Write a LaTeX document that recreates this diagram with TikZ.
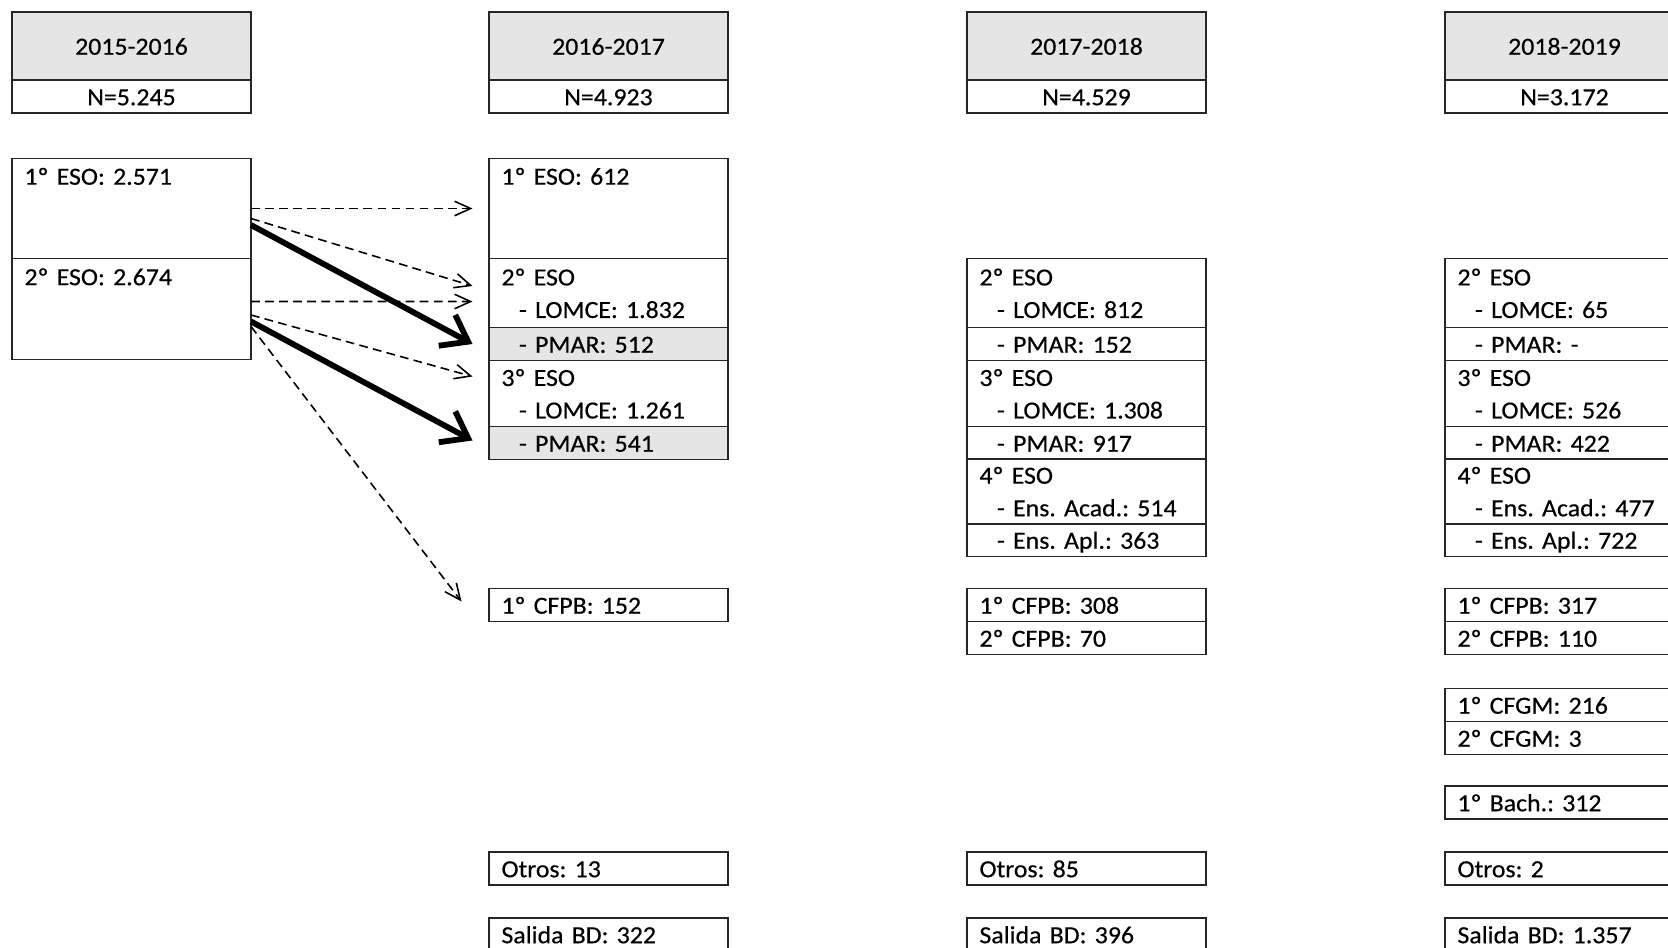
\documentclass[tikz,border=0pt]{standalone}
\usepackage{fontspec}
\setmainfont{Carlito}[FakeStretch=1.05,FakeBold=0.4]
\usetikzlibrary{arrows.meta}

\tikzset{
  cellbox/.style={draw=black!85, line width=1.1pt, rectangle, anchor=north west,
    minimum width=4.78cm, minimum height=0.66cm, inner xsep=0.25cm, inner ysep=0pt,
    outer sep=0pt, text width=4.28cm, align=left,
    font=\fontsize{14pt}{18.5pt}\selectfont\frenchspacing,
    execute at begin node=\cellstrut, execute at end node=\cellstrut},
  yearbox/.style={cellbox, align=center, fill=gray!20, minimum height=1.36cm},
  nbox/.style={cellbox, align=center},
  pmarbox/.style={cellbox, fill=gray!20},
  dasharrow/.style={-{Straight Barb[length=0.32cm,width=0.29cm]}, line width=0.9pt,
    dash pattern=on 5pt off 3pt},
  thickarrow/.style={-{Straight Barb[length=0.48cm,width=0.7cm]}, line width=3.3pt}
}
\newcommand{\subln}{\hspace*{0.35cm}}
\newcommand{\cellstrut}{\rule[-4.3pt]{0pt}{18.5pt}}

\begin{document}
\begin{tikzpicture}
	\useasboundingbox (0,0) rectangle (33.36,-18.96);
	\clip (0,0) rectangle (33.36,-18.96);
	% 2015-2016
	\node[yearbox] (yrA) at (0.24,-0.24) {2015-2016};
	\node[nbox] (nA) at (0.24,-1.6) {N=5.245};
	\node[cellbox, minimum height=2cm] (eso1A) at (0.24,-3.17) {1º ESO: 2.571\\~\\~};
	\node[cellbox, minimum height=2.02cm] (eso2A) at (0.24,-5.17) {2º ESO: 2.674\\~\\~};
	% 2016-2017
	\node[yearbox] (yrB) at (9.78,-0.24) {2016-2017};
	\node[nbox] (nB) at (9.78,-1.6) {N=4.923};
	\node[cellbox, minimum height=2cm] (eso1B) at (9.78,-3.17) {1º ESO: 612\\~\\~};
	\node[cellbox, minimum height=1.38cm] (eso2B) at (9.78,-5.17) {2º ESO\\\subln - LOMCE: 1.832};
	\node[pmarbox] (pmar2B) at (9.78,-6.55) {\subln - PMAR: 512};
	\node[cellbox, minimum height=1.32cm] (eso3B) at (9.78,-7.21) {3º ESO\\\subln - LOMCE: 1.261};
	\node[pmarbox] (pmar3B) at (9.78,-8.53) {\subln - PMAR: 541};
	\node[cellbox] (cfpb1B) at (9.78,-11.77) {1º CFPB: 152};
	\node[cellbox] (otrosB) at (9.78,-17.04) {Otros: 13};
	\node[cellbox] (salidaB) at (9.78,-18.36) {Salida BD: 322};
	% 2017-2018
	\node[yearbox] (yrC) at (19.34,-0.24) {2017-2018};
	\node[nbox] (nC) at (19.34,-1.6) {N=4.529};
	\node[cellbox, minimum height=1.38cm] (eso2C) at (19.34,-5.17) {2º ESO\\\subln - LOMCE: 812};
	\node[cellbox] (pmar2C) at (19.34,-6.55) {\subln - PMAR: 152};
	\node[cellbox, minimum height=1.32cm] (eso3C) at (19.34,-7.21) {3º ESO\\\subln - LOMCE: 1.308};
	\node[cellbox] (pmar3C) at (19.34,-8.53) {\subln - PMAR: 917};
	\node[cellbox, minimum height=1.31cm] (eso4C) at (19.34,-9.17) {4º ESO\\\subln - Ens. Acad.: 514};
	\node[cellbox] (aplC) at (19.34,-10.47) {\subln - Ens. Apl.: 363};
	\node[cellbox] (cfpb1C) at (19.34,-11.77) {1º CFPB: 308};
	\node[cellbox] (cfpb2C) at (19.34,-12.43) {2º CFPB: 70};
	\node[cellbox] (otrosC) at (19.34,-17.04) {Otros: 85};
	\node[cellbox] (salidaC) at (19.34,-18.36) {Salida BD: 396};
	% 2018-2019
	\node[yearbox] (yrD) at (28.9,-0.24) {2018-2019};
	\node[nbox] (nD) at (28.9,-1.6) {N=3.172};
	\node[cellbox, minimum height=1.38cm] (eso2D) at (28.9,-5.17) {2º ESO\\\subln - LOMCE: 65};
	\node[cellbox] (pmar2D) at (28.9,-6.55) {\subln - PMAR: -};
	\node[cellbox, minimum height=1.32cm] (eso3D) at (28.9,-7.21) {3º ESO\\\subln - LOMCE: 526};
	\node[cellbox] (pmar3D) at (28.9,-8.53) {\subln - PMAR: 422};
	\node[cellbox, minimum height=1.31cm] (eso4D) at (28.9,-9.17) {4º ESO\\\subln - Ens. Acad.: 477};
	\node[cellbox] (aplD) at (28.9,-10.47) {\subln - Ens. Apl.: 722};
	\node[cellbox] (cfpb1D) at (28.9,-11.77) {1º CFPB: 317};
	\node[cellbox] (cfpb2D) at (28.9,-12.43) {2º CFPB: 110};
	\node[cellbox] (cfgm1D) at (28.9,-13.77) {1º CFGM: 216};
	\node[cellbox] (cfgm2D) at (28.9,-14.43) {2º CFGM: 3};
	\node[cellbox] (bachD) at (28.9,-15.72) {1º Bach.: 312};
	\node[cellbox] (otrosD) at (28.9,-17.04) {Otros: 2};
	\node[cellbox] (salidaD) at (28.9,-18.36) {Salida BD: 1.357};
	% flows from 1º ESO
	\draw[dasharrow] (eso1A.east) -- ([xshift=-0.33cm]eso1B.west);
	\draw[dasharrow] ([yshift=-0.2cm]eso1A.east) -- ([xshift=-0.33cm,yshift=0.14cm]eso2B.west);
	\draw[thickarrow] ([yshift=-0.33cm]eso1A.east) -- ([xshift=-0.33cm]pmar2B.west);
	% flows from 2º ESO
	\draw[dasharrow] ([yshift=0.15cm]eso2A.east) -- ([xshift=-0.33cm,yshift=-0.17cm]eso2B.west);
	\draw[dasharrow] ([yshift=-0.12cm]eso2A.east) -- ([xshift=-0.33cm,yshift=0.34cm]eso3B.west);
	\draw[thickarrow] ([yshift=-0.25cm]eso2A.east) -- ([xshift=-0.33cm,yshift=0.05cm]pmar3B.west);
	\draw[dasharrow] ([yshift=-0.35cm]eso2A.east) -- ([xshift=-0.55cm,yshift=0.07cm]cfpb1B.west);
\end{tikzpicture}
\end{document}
